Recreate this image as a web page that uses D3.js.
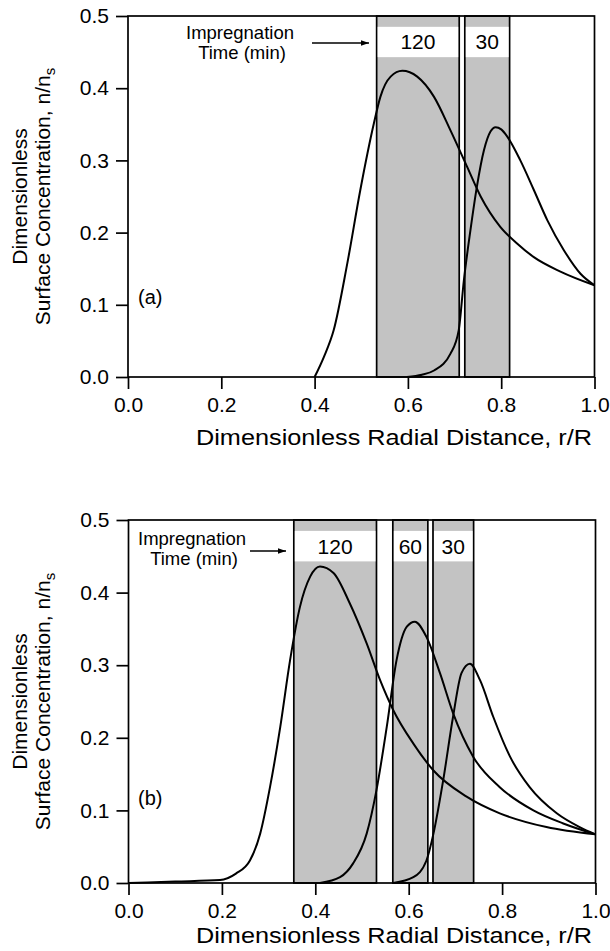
<!DOCTYPE html>
<html lang="en">
<head>
<meta charset="UTF-8" />
<title>Impregnation profiles</title>
<style>
    body { margin: 0; background: #fff; }
    text { font-family: "Liberation Sans", Arial, Helvetica, sans-serif; fill: #000; }
</style>
</head>
<body>
<div id="container"></div>
<script src="https://cdnjs.cloudflare.com/ajax/libs/d3/7.8.5/d3.min.js"></script>
<script>
    // axis ticks
    let xTicks = [0, 0.2, 0.4, 0.6, 0.8, 1.0],
        yTicks = [0, 0.1, 0.2, 0.3, 0.4, 0.5];

    // panel (a) curves
    let a120x = [0.4, 0.42, 0.441, 0.47, 0.498, 0.527, 0.541, 0.563, 0.588, 0.62, 0.656, 0.691, 0.727, 0.756, 0.798, 0.834, 0.87, 0.927, 1.0],
        a120y = [0, 0.028, 0.065, 0.157, 0.259, 0.351, 0.388, 0.416, 0.424, 0.416, 0.388, 0.342, 0.291, 0.25, 0.208, 0.185, 0.166, 0.146, 0.127];
    let a30x = [0.598, 0.63, 0.656, 0.691, 0.709, 0.72, 0.734, 0.748, 0.763, 0.777, 0.788, 0.8, 0.813, 0.841, 0.87, 0.899, 0.934, 0.97, 1.0],
        a30y = [0, 0.003, 0.009, 0.032, 0.065, 0.134, 0.203, 0.264, 0.314, 0.34, 0.346, 0.343, 0.333, 0.3, 0.259, 0.217, 0.176, 0.143, 0.127];
    // panel (a) shaded bands
    let aBandFrom = [0.533, 0.722],
        aBandTo = [0.71, 0.818],
        aBandLabel = ["120", "30"];

    // panel (b) curves
    let b120x = [0, 0.1, 0.196, 0.23, 0.26, 0.282, 0.303, 0.325, 0.346, 0.367, 0.389, 0.41, 0.439, 0.474, 0.51, 0.539, 0.567, 0.61, 0.653, 0.724, 0.795, 0.895, 1.0],
        b120y = [0, 0.002, 0.004, 0.013, 0.031, 0.068, 0.132, 0.215, 0.307, 0.38, 0.422, 0.436, 0.427, 0.385, 0.33, 0.279, 0.238, 0.192, 0.155, 0.119, 0.096, 0.077, 0.067];
    let b60x = [0.41, 0.453, 0.481, 0.51, 0.531, 0.553, 0.574, 0.596, 0.613, 0.638, 0.667, 0.695, 0.738, 0.795, 0.867, 0.931, 1.0],
        b60y = [0, 0.008, 0.027, 0.068, 0.128, 0.215, 0.307, 0.353, 0.36, 0.339, 0.289, 0.234, 0.174, 0.132, 0.1, 0.082, 0.067];
    let b30x = [0.567, 0.61, 0.638, 0.653, 0.674, 0.695, 0.713, 0.731, 0.753, 0.781, 0.817, 0.859, 0.917, 0.966, 1.0],
        b30y = [0, 0.008, 0.031, 0.068, 0.142, 0.229, 0.289, 0.302, 0.279, 0.229, 0.174, 0.132, 0.096, 0.077, 0.067];
    let bBandFrom = [0.354, 0.566, 0.652],
        bBandTo = [0.531, 0.641, 0.739],
        bBandLabel = ["120", "60", "30"];

    // label box inside each band (data units)
    let boxLo = 0.443, boxHi = 0.485;

    let W = 610, H = 951;
    let svg = d3.select("#container").append("svg").attr("width", W).attr("height", H);

    let defs = svg.append("defs");
    defs.append("marker").attr("id", "arrow")
        .attr("viewBox", "0 0 10 10").attr("refX", 10).attr("refY", 5)
        .attr("markerWidth", 11).attr("markerHeight", 8).attr("markerUnits", "userSpaceOnUse")
        .attr("orient", "auto")
        .append("path").attr("d", "M0,1.5 L10,5 L0,8.5 Z").attr("fill", "#000");

    function zip(xs, ys) { return xs.map((x, i) => [x, ys[i]]); }

    function panel(cfg) {
        let x = d3.scaleLinear().domain([0, 1]).range([cfg.left, cfg.right]);
        let y = d3.scaleLinear().domain([0, 0.5]).range([cfg.bottom, cfg.top]);
        let g = svg.append("g");

        // bands
        let bands = cfg.from.map((f, i) => ({ f: f, t: cfg.to[i], label: cfg.labels[i] }));
        let bg = g.selectAll("g.band").data(bands).enter().append("g");
        bg.append("rect")
            .attr("x", d => x(d.f)).attr("width", d => x(d.t) - x(d.f))
            .attr("y", y(0.5)).attr("height", y(0) - y(0.5))
            .attr("fill", "#c3c3c3").attr("stroke", "#000").attr("stroke-width", 1.7);
        bg.append("rect")
            .attr("x", d => x(d.f) + 1).attr("width", d => x(d.t) - x(d.f) - 2)
            .attr("y", y(boxHi)).attr("height", y(boxLo) - y(boxHi))
            .attr("fill", "#fff");
        bg.append("text")
            .attr("x", d => (x(d.f) + x(d.t)) / 2)
            .attr("y", y((boxLo + boxHi) / 2) + 7.5)
            .attr("text-anchor", "middle").attr("font-size", 21)
            .text(d => d.label);

        // curves
        let line = d3.line().x(d => x(d[0])).y(d => y(d[1])).curve(d3.curveMonotoneX);
        g.selectAll("path.curve").data(cfg.curves).enter().append("path")
            .attr("d", line).attr("fill", "none").attr("stroke", "#000").attr("stroke-width", 2);

        // frame
        g.append("rect").attr("x", cfg.left).attr("y", cfg.top)
            .attr("width", cfg.right - cfg.left).attr("height", cfg.bottom - cfg.top)
            .attr("fill", "none").attr("stroke", "#000").attr("stroke-width", 1.7);

        // axes
        let xa = g.append("g").attr("transform", `translate(0,${cfg.bottom})`)
            .call(d3.axisBottom(x).tickValues(xTicks).tickFormat(d3.format(".1f")).tickSizeOuter(0).tickSize(12).tickPadding(8));
        let ya = g.append("g").attr("transform", `translate(${cfg.left},0)`)
            .call(d3.axisLeft(y).tickValues(yTicks).tickFormat(d3.format(".1f")).tickSizeOuter(0).tickSize(12).tickPadding(7));
        [xa, ya].forEach(a => {
            a.select(".domain").remove();
            a.selectAll(".tick line").attr("stroke", "#000").attr("stroke-width", 1.7);
            a.selectAll("text").attr("font-size", 21).attr("font-family", null);
        });

        // axis titles
        g.append("text").attr("x", 394).attr("y", cfg.bottom + cfg.titleGap)
            .attr("text-anchor", "middle").attr("font-size", 22)
            .attr("textLength", 396).attr("lengthAdjust", "spacingAndGlyphs")
            .text("Dimensionless Radial Distance, r/R");
        let my = (cfg.top + cfg.bottom) / 2;
        g.append("text").attr("transform", `translate(27,${my}) rotate(-90)`)
            .attr("text-anchor", "middle").attr("font-size", 21).text("Dimensionless");
        let t2 = g.append("text").attr("transform", `translate(50,${my}) rotate(-90)`)
            .attr("text-anchor", "middle").attr("font-size", 21);
        t2.append("tspan").text("Surface Concentration, n/n");
        t2.append("tspan").attr("font-size", 15).attr("dy", 5).text("s");

        // panel tag
        g.append("text").attr("x", cfg.tagX).attr("y", cfg.tagY).attr("font-size", 20).text(cfg.tag);

        // impregnation time annotation
        g.append("text").attr("x", cfg.annX).attr("y", cfg.annY)
            .attr("text-anchor", "middle").attr("font-size", 18.5).text("Impregnation");
        g.append("text").attr("x", cfg.annX + 2).attr("y", cfg.annY + 20)
            .attr("text-anchor", "middle").attr("font-size", 18.5).text("Time (min)");
        g.append("line").attr("x1", cfg.arrow[0]).attr("x2", cfg.arrow[1])
            .attr("y1", cfg.arrow[2]).attr("y2", cfg.arrow[2])
            .attr("stroke", "#000").attr("stroke-width", 1.6).attr("marker-end", "url(#arrow)");
    }

    panel({
        left: 128, right: 594.5, top: 16, bottom: 377, titleGap: 68,
        from: aBandFrom, to: aBandTo, labels: aBandLabel,
        curves: [zip(a120x, a120y), zip(a30x, a30y)],
        tag: "(a)", tagX: 138, tagY: 304,
        annX: 240, annY: 39, arrow: [312, 369, 43]
    });
    panel({
        left: 128.5, right: 595.5, top: 520, bottom: 883, titleGap: 60,
        from: bBandFrom, to: bBandTo, labels: bBandLabel,
        curves: [zip(b120x, b120y), zip(b60x, b60y), zip(b30x, b30y)],
        tag: "(b)", tagX: 138, tagY: 805,
        annX: 192, annY: 545, arrow: [250, 286, 551]
    });
</script>
</body>
</html>
